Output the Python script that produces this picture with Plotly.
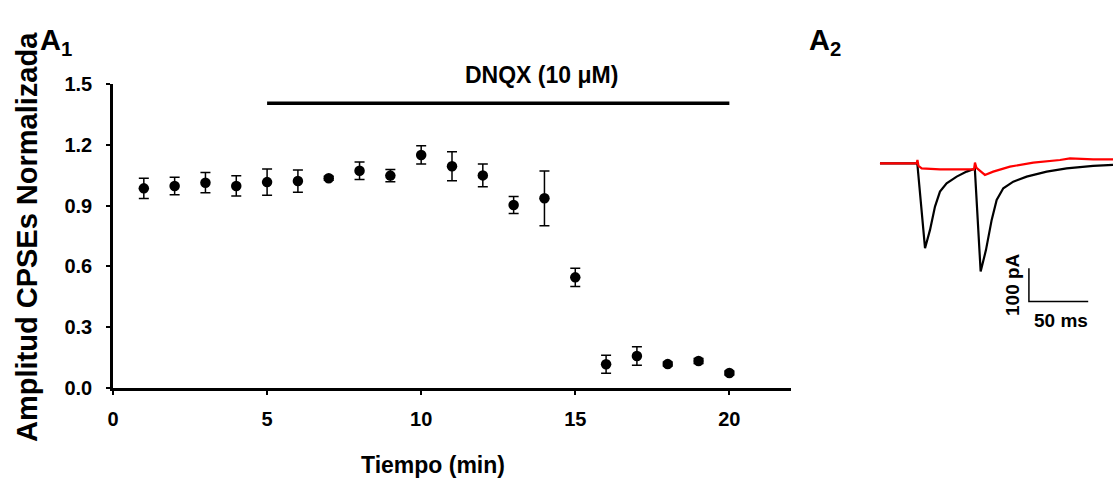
import plotly.graph_objects as go

# ---------------- Data: panel A1 ----------------
time_min = [1, 2, 3, 4, 5, 6, 7, 8, 9, 10, 11, 12, 13, 14, 15, 16, 17, 18, 19, 20]
amp_norm = [0.985, 0.997, 1.013, 0.997, 1.016, 1.021, 1.035, 1.072, 1.048, 1.150,
            1.094, 1.049, 0.903, 0.936, 0.546, 0.117, 0.158, 0.118, 0.133, 0.074]
amp_err = [0.050, 0.043, 0.050, 0.050, 0.065, 0.055, 0.010, 0.043, 0.030, 0.045,
           0.072, 0.056, 0.042, 0.135, 0.045, 0.044, 0.046, 0.010, 0.012, 0.010]
drug_label = "DNQX (10 μM)"
drug_start, drug_end, drug_level = 5, 20, 1.405
x_ticks = [0, 5, 10, 15, 20]
y_ticks = [0.0, 0.3, 0.6, 0.9, 1.2, 1.5]

# ---------------- Data: panel A2 (traces, ms / pA) ----------------
ctrl_t = [0, 31, 31.6, 38, 42.2, 46.4, 50.6, 56.2, 64.7, 73.1, 78.7, 80, 84.9, 89.4,
          94.2, 98.4, 104, 112.4, 123.7, 140.6, 157.4, 179.8, 196.5]
ctrl_i = [0, 0, -5, -255, -200, -130, -85, -60, -40, -25, -18, -17, -325, -260,
          -170, -110, -75, -55, -40, -25, -15, -8, -5]
dnqx_t = [0, 31, 31.6, 32.5, 35.2, 50.6, 67.5, 79.3, 80.1, 81.4, 88.5, 95.5, 109.6,
          129.3, 151.8, 160.2, 179.8, 196.5]
dnqx_i = [0, 0, 10, -8, -15, -18, -18, -18, 2, -14, -35, -25, -10, 2, 10, 15, 12, 12]
bar_ms = 50
bar_pA = 100

W, H = 1113, 486
def px(x):
    return x / W
def py(y):
    return 1 - y / H

FONT = "Liberation Sans, Arial, sans-serif"

fig = go.Figure()

# A1 scatter with error bars
fig.add_trace(go.Scatter(
    x=time_min, y=amp_norm, mode="markers",
    marker=dict(color="black", size=10.5),
    error_y=dict(type="data", array=amp_err, color="black", thickness=1.5, width=5),
    showlegend=False, cliponaxis=False,
))
# Drug application bar
fig.add_trace(go.Scatter(
    x=[drug_start, drug_end], y=[drug_level, drug_level], mode="lines",
    line=dict(color="black", width=3.5), showlegend=False, cliponaxis=False,
))

# A2 traces
fig.add_trace(go.Scatter(x=ctrl_t, y=ctrl_i, mode="lines", xaxis="x2", yaxis="y2",
                         line=dict(color="black", width=2.2), showlegend=False))
fig.add_trace(go.Scatter(x=dnqx_t, y=dnqx_i, mode="lines", xaxis="x2", yaxis="y2",
                         line=dict(color="#ff0000", width=2.2), showlegend=False))
# scale bar
sb_t0, sb_i0 = 125.6, -415
fig.add_trace(go.Scatter(x=[sb_t0, sb_t0, sb_t0 + bar_ms], y=[sb_i0 + bar_pA, sb_i0, sb_i0],
                         mode="lines", xaxis="x2", yaxis="y2",
                         line=dict(color="black", width=1.5), showlegend=False))

tickfont = dict(family=FONT, size=20, color="black", weight="bold")

fig.update_layout(
    width=W, height=H, margin=dict(l=0, r=0, t=0, b=0, autoexpand=False),
    paper_bgcolor="white", plot_bgcolor="white",
    xaxis=dict(domain=[px(113), px(791)], range=[0, 22], tickvals=x_ticks,
               showline=True, linecolor="black", linewidth=2.5, ticks="outside",
               ticklen=4, tickwidth=2, tickcolor="black", showgrid=False, zeroline=False,
               tickfont=tickfont, anchor="y", automargin=False, ticklabelstandoff=7),
    yaxis=dict(domain=[py(388), py(84)], range=[0, 1.5], tickvals=y_ticks,
               ticktext=[f"{v:.1f}" for v in y_ticks],
               showline=True, linecolor="black", linewidth=2.5, ticks="outside",
               ticklen=4, tickwidth=2, tickcolor="black", showgrid=False, zeroline=False,
               tickfont=tickfont, anchor="x", automargin=False, ticklabelstandoff=10),
    xaxis2=dict(domain=[px(870), px(1113)], range=[-8.4, 196.5], visible=False,
                anchor="y2", automargin=False),
    yaxis2=dict(domain=[py(330), py(130)], range=[-500.6, 100], visible=False,
                anchor="x2", automargin=False),
)

def ann(text, x, y, size, angle=0, xanchor="center"):
    fig.add_annotation(text=text, x=px(x), y=py(y), xref="paper", yref="paper",
                       showarrow=False, textangle=angle, xanchor=xanchor, yanchor="middle",
                       font=dict(family=FONT, size=size, color="black", weight="bold"))

ann("A<sub>1</sub>", 38, 42, 29, xanchor="left")
ann("A<sub>2</sub>", 807, 42, 29, xanchor="left")
ann(drug_label, 541, 75, 23)
ann("Tiempo (min)", 433, 465, 23)
ann("Amplitud CPSEs Normalizada", 27, 237, 29, angle=-90)
ann("100 pA", 1012, 285, 19, angle=-90)
ann("50 ms", 1061, 320, 19)

fig.write_html("out.html")
